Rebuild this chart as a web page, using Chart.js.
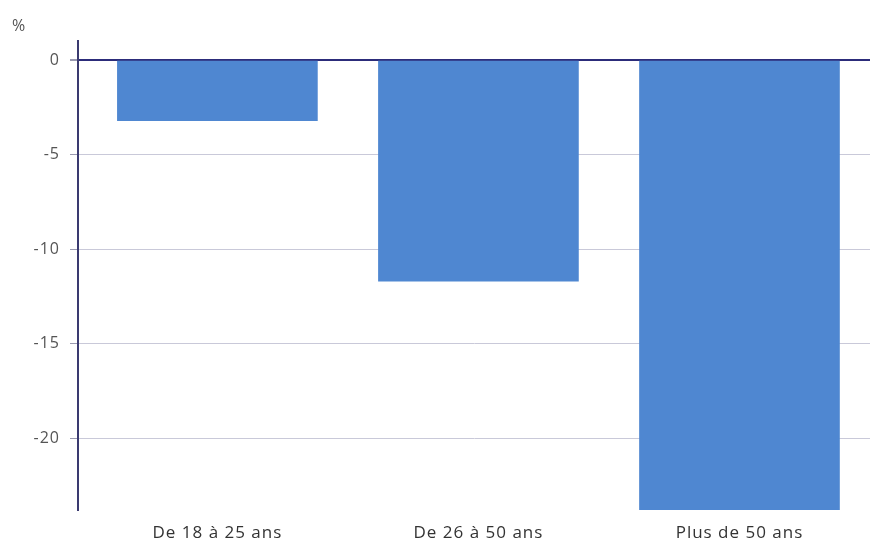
<!DOCTYPE html>
<html>
<head>
<meta charset="utf-8">
<script src="https://cdn.jsdelivr.net/npm/chart.js@4/dist/chart.umd.min.js"></script>
<style>
  html, body { margin: 0; padding: 0; background: #fff; }
  #wrap { width: 877px; height: 546px; }
</style>
</head>
<body>
<div id="wrap"><canvas id="c" width="877" height="546"></canvas></div>
<script>
// Age groups and change in percent
const categories = ["De 18 à 25 ans", "De 26 à 50 ans", "Plus de 50 ans"];
const values = [-3.2, -11.7, -23.8];
const yTicks = [0, -5, -10, -15, -20];

const points = values.map((v, i) => ({ x: i, y: v }));

// Slightly open letter spacing for all text on the canvas
const spacing = {
  id: 'spacing',
  beforeUpdate: (chart) => { chart.ctx.letterSpacing = '1px'; },
  beforeDraw: (chart) => { chart.ctx.letterSpacing = '1px'; }
};

new Chart(document.getElementById('c'), {
  type: 'bar',
  data: {
    datasets: [{
      data: points,
      backgroundColor: '#4f87d1',
      borderWidth: 0,
      barThickness: 200
    }]
  },
  plugins: [spacing],
  options: {
    responsive: false,
    animation: false,
    layout: { padding: { left: 12, right: 7, top: 17, bottom: 0 } },
    plugins: {
      legend: { display: false },
      tooltip: { enabled: false },
      title: {
        display: true,
        text: '%',
        align: 'start',
        color: '#555',
        font: { family: 'Open Sans', size: 16, weight: 'normal' },
        padding: { top: 0, bottom: 5 }
      }
    },
    scales: {
      x: {
        type: 'linear',
        offset: false,
        min: -0.534,
        max: 2.5,
        afterFit: (scale) => { scale.height = 36; },
        ticks: {
          stepSize: 1,
          includeBounds: false,
          color: '#333',
          font: { family: 'Open Sans', size: 17 },
          padding: 13,
          callback: (v) => Number.isInteger(v) && categories[v] !== undefined ? categories[v] : ''
        },
        grid: { display: false, drawTicks: false, offset: false },
        border: { display: false }
      },
      y: {
        min: -23.8,
        max: 1,
        afterFit: (scale) => { scale.width = 66; },
        afterBuildTicks: (scale) => { scale.ticks = yTicks.map(v => ({ value: v })); },
        ticks: {
          color: '#555',
          font: { family: 'Open Sans', size: 16 },
          padding: 10
        },
        grid: {
          color: (ctx) => ctx.tick && ctx.tick.value === 0 ? '#2c2c7a' : '#c9c9d9',
          lineWidth: (ctx) => ctx.tick && ctx.tick.value === 0 ? 2 : 1,
          tickLength: 8,
          tickColor: '#9a9ab0'
        },
        border: { display: true, color: '#3a3a70', width: 2 }
      }
    }
  }
});
</script>
</body>
</html>
